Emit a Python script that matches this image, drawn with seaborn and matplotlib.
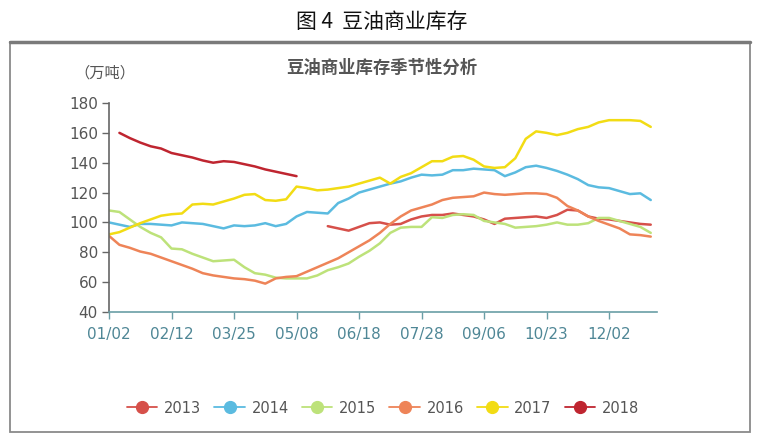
import numpy as np
import pandas as pd
import matplotlib.pyplot as plt
import seaborn as sns
from matplotlib.lines import Line2D
from matplotlib.patches import Rectangle

# trading-day index (every 5 days), tick labels every 30
day = list(range(0, 261, 5))
tick_pos = [0, 30, 60, 90, 120, 150, 180, 210, 240]
tick_labels = ['01/02', '02/12', '03/25', '05/08', '06/18', '07/28', '09/06', '10/23', '12/02']
years = ['2013', '2014', '2015', '2016', '2017', '2018']

nan = np.nan
s2013 = [nan] * 21 + [97.5, 96, 94.5, 97, 99.5, 100, 98.5, 99, 102, 104, 105, 105, 106, 105, 104,
                      102, 99, 102.5, 103, 103.5, 104, 103, 105, 108.5, 108, 104, 102.5, 102,
                      101, 100, 99, 98.5]
s2014 = [100, 98.5, 97, 99, 99, 98.5, 98, 100, 99.5, 99, 97.5, 96, 98, 97.5, 98, 99.5, 97.5, 99,
         104, 107, 106.5, 106, 113, 116, 120, 122, 124, 126, 127.5, 130, 132, 131.5, 132, 135,
         135, 136, 135.5, 135, 131, 133.5, 137, 138, 136.5, 134.5, 132, 129, 125, 123.5, 123,
         121, 119, 119.5, 115]
s2015 = [108, 107, 102, 97, 93, 90, 82.5, 82, 79, 76.5, 74, 74.5, 75, 70, 66, 65, 63, 62.5, 62.5,
         62.5, 64.5, 68, 70, 72.5, 77, 81, 86, 93, 96.5, 97, 97, 103.5, 103, 105, 105.5, 105,
         101, 100, 99, 96.5, 97, 97.5, 98.5, 100, 98.5, 98.5, 99.5, 103, 103, 101, 99, 97, 93]
s2016 = [91, 85, 83, 80.5, 79, 76.5, 74, 71.5, 69, 66, 64.5, 63.5, 62.5, 62, 61, 59, 62.5, 63.5,
         64, 67, 70, 73, 76, 80, 84, 88, 93, 99, 104, 108, 110, 112, 115, 116.5, 117, 117.5,
         120, 119, 118.5, 119, 119.5, 119.5, 119, 116.5, 111, 108, 104, 101, 98.5, 96, 92,
         91.5, 90.5]
s2017 = [92, 93.5, 96.5, 99.5, 102, 104.5, 105.5, 106, 112, 112.5, 112, 114, 116, 118.5, 119,
         115, 114.5, 115.5, 124, 123, 121.5, 122, 123, 124, 126, 128, 130, 126, 130.5, 133,
         137, 141, 141, 144, 144.5, 142, 137.5, 136.5, 137, 143, 156, 161, 160, 158.5, 160,
         162.5, 164, 167, 168.5, 168.5, 168.5, 168, 164]
s2018 = [nan, 160, 156.5, 153.5, 151, 149.5, 146.5, 145, 143.5, 141.5, 140, 141, 140.5, 139,
         137.5, 135.5, 134, 132.5, 131] + [nan] * 34

colors = {'2013': '#d6504a', '2014': '#5bbbe0', '2015': '#bde27a',
          '2016': '#ee8458', '2017': '#f2dc14', '2018': '#bf2530'}

df = pd.DataFrame({'day': day, '2013': s2013, '2014': s2014, '2015': s2015,
                   '2016': s2016, '2017': s2017, '2018': s2018})
long = df.melt(id_vars='day', var_name='year', value_name='stock').dropna()

sns.set_theme(style='white')
plt.rcParams['font.family'] = ['DejaVu Sans', 'Noto Sans CJK SC']

fig = plt.figure(figsize=(7.63, 4.36), dpi=100)
ax = fig.add_axes([109 / 763, 1 - 312 / 436, 548 / 763, 209 / 436])

sns.lineplot(data=long, x='day', y='stock', hue='year', palette=colors,
             linewidth=1.8, legend=False, ax=ax, estimator=None)

ax.set_xlim(0, 263)
ax.set_ylim(40, 180)
ax.set_yticks(range(40, 181, 20))
ax.set_xticks(tick_pos)
ax.set_xticklabels(tick_labels)
ax.set_xlabel('')
ax.set_ylabel('')
for side in ['top', 'right']:
    ax.spines[side].set_visible(False)
ax.spines['left'].set_color('#666666')
ax.spines['bottom'].set_color('#6a9ea6')
ax.spines['left'].set_linewidth(1.2)
ax.spines['bottom'].set_linewidth(1.2)
ax.tick_params(axis='y', left=True, length=5, width=1, color='#666666',
               labelsize=11, labelcolor='#555555', pad=3)
ax.tick_params(axis='x', bottom=True, length=5, width=1, color='#6a9ea6',
               labelsize=11, labelcolor='#4f8796', pad=6)

# titles and unit
fig.text(0.5, 1 - 22 / 436, '图 4  豆油商业库存', ha='center', va='center',
         fontsize=15, color='#111111', family=['Noto Sans CJK SC'])
fig.text(382 / 763, 1 - 68 / 436, '豆油商业库存季节性分析', ha='center', va='center',
         fontsize=12.5, fontweight='bold', color='#555555', family=['Noto Sans CJK SC'])
fig.text(105 / 763, 1 - 73 / 436, '（万吨）', ha='center', va='center',
         fontsize=11, color='#555555', family=['Noto Sans CJK SC'])

# frame around chart
fig.patches.append(Rectangle((10 / 763, 1 - 432 / 436), 740 / 763, 390 / 436,
                             transform=fig.transFigure, fill=False,
                             edgecolor='#8a8a8a', linewidth=1.3))
fig.lines.append(Line2D([10 / 763, 750 / 763], [1 - 42 / 436, 1 - 42 / 436],
                        transform=fig.transFigure, color='#7a7a7a', linewidth=2.5))

handles = [Line2D([0], [0], color=colors[y], linewidth=1.3, marker='o',
                  markersize=8.5, markeredgecolor=colors[y]) for y in years]
fig.legend(handles, years, loc='center', bbox_to_anchor=(383 / 763, 1 - 408 / 436),
           ncol=6, frameon=False, fontsize=10.5, handlelength=2.1,
           columnspacing=0.9, handletextpad=0.45, labelcolor='#555555')

fig.savefig('out.png', dpi=100)
